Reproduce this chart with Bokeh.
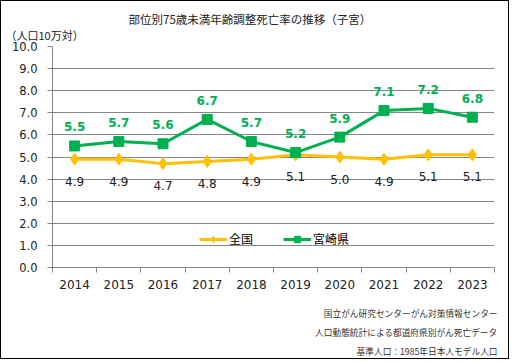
from bokeh.plotting import figure
from bokeh.models import (Range1d, FixedTicker, Legend, LegendItem, Title,
                          ColumnDataSource, LabelSet, NumeralTickFormatter)
from bokeh.core.properties import value
from bokeh.embed import file_html
from bokeh.resources import INLINE

years = [2014, 2015, 2016, 2017, 2018, 2019, 2020, 2021, 2022, 2023]
national = [4.9, 4.9, 4.7, 4.8, 4.9, 5.1, 5.0, 4.9, 5.1, 5.1]
miyazaki = [5.5, 5.7, 5.6, 6.7, 5.7, 5.2, 5.9, 7.1, 7.2, 6.8]
y_ticks = [0, 1, 2, 3, 4, 5, 6, 7, 8, 9, 10]
title_text = "部位別75歳未満年齢調整死亡率の推移（子宮）"
unit_text = "（人口10万対）"
notes = ["国立がん研究センターがん対策情報センター",
         "人口動態統計による都道府県別がん死亡データ",
         "基準人口：1985年日本人モデル人口"]
series_names = ["全国", "宮崎県"]

JP = "Noto Sans CJK JP"
NUM = "DejaVu Sans"
ORANGE = "#FFC000"
GREEN = "#00B050"
GRID = "#868686"

p = figure(width=509, height=359, output_backend="svg", toolbar_location=None,
           x_range=Range1d(years[0] - 0.5, years[-1] + 0.5),
           y_range=Range1d(0, 10), title=None)
p.styles = {"border": "1px solid #000000"}
p.min_border_left = 51
p.min_border_right = 16
p.min_border_top = 45
p.min_border_bottom = 93
p.outline_line_color = None
p.border_fill_color = "white"
p.background_fill_color = "white"

# x axis: labels at year centres, tick marks at category boundaries
p.xaxis.ticker = FixedTicker(ticks=years,
                             minor_ticks=[y - 0.5 for y in years] + [years[-1] + 0.5])
p.xaxis.major_tick_line_color = None
p.xaxis.major_tick_in = 0
p.xaxis.major_tick_out = 5
p.xaxis.minor_tick_in = 0
p.xaxis.minor_tick_out = 5
p.xaxis.minor_tick_line_color = GRID
p.xaxis.axis_line_color = GRID
p.xaxis.major_label_text_font = NUM
p.xaxis.major_label_text_font_size = "12px"
p.xaxis.major_label_text_color = "#222222"
p.xaxis.major_label_standoff = 7

p.yaxis.ticker = FixedTicker(ticks=y_ticks, minor_ticks=[])
p.yaxis.formatter = NumeralTickFormatter(format="0.0")
p.yaxis.major_tick_in = 0
p.yaxis.major_tick_out = 5
p.yaxis.major_tick_line_color = GRID
p.yaxis.axis_line_color = GRID
p.yaxis.major_label_text_font = NUM
p.yaxis.major_label_text_font_size = "11.5px"
p.yaxis.major_label_text_color = "#222222"
p.yaxis.major_label_standoff = 10

p.xgrid.grid_line_color = None
p.ygrid.ticker = FixedTicker(ticks=y_ticks[1:])
p.ygrid.grid_line_color = GRID
p.ygrid.grid_line_width = 1

src = ColumnDataSource(dict(x=years, nat=national, miy=miyazaki,
                            nat_t=[f"{v:.1f}" for v in national],
                            miy_t=[f"{v:.1f}" for v in miyazaki]))

l1 = p.line("x", "nat", source=src, line_color=ORANGE, line_width=3)
m1 = p.scatter("x", "nat", source=src, marker="diamond", size=12,
               fill_color=ORANGE, line_color=ORANGE)
l2 = p.line("x", "miy", source=src, line_color=GREEN, line_width=3)
m2 = p.scatter("x", "miy", source=src, marker="square", size=10,
               fill_color=GREEN, line_color=GREEN)

p.add_layout(LabelSet(x="x", y="nat", text="nat_t", source=src, y_offset=-22,
                      text_align="center", text_baseline="middle",
                      text_font=value(NUM), text_font_size="12px",
                      text_color="#222222"))
p.add_layout(LabelSet(x="x", y="miy", text="miy_t", source=src, y_offset=19,
                      text_align="center", text_baseline="middle",
                      text_font=value(NUM), text_font_size="12px",
                      text_color=GREEN, text_font_style="bold"))

legend = Legend(items=[LegendItem(label=series_names[0], renderers=[l1, m1]),
                       LegendItem(label=series_names[1], renderers=[l2, m2])],
                orientation="horizontal", location=(147, 20),
                background_fill_alpha=0, border_line_color=None,
                padding=0, margin=0, spacing=30, label_standoff=2,
                glyph_width=28, glyph_height=16,
                label_text_font=JP, label_text_font_size="12px",
                label_text_color="#000000")
p.add_layout(legend)

# titles above the frame (first added sits closest to the frame)
p.add_layout(Title(text=unit_text, align="left", offset=-47, standoff=4,
                   vertical_align="top",
                   text_font=JP, text_font_size="11px", text_font_style="normal",
                   text_color="#222222"), "above")
p.add_layout(Title(text=title_text, align="left", offset=76, standoff=-5,
                   vertical_align="bottom",
                   text_font=JP, text_font_size="11.5px", text_font_style="normal",
                   text_color="#222222"), "above")

# spacer between the year labels and the footnotes
p.add_layout(Title(text=" ", standoff=8, text_font_size="1px"), "below")
# footnotes below the axis
for t in notes:
    p.add_layout(Title(text=t, align="right", offset=-3, standoff=3.5,
                       text_font=JP, text_font_size="8.7px",
                       text_font_style="normal", text_color="#333333"), "below")

open("out.html", "w").write(file_html(p, INLINE))
